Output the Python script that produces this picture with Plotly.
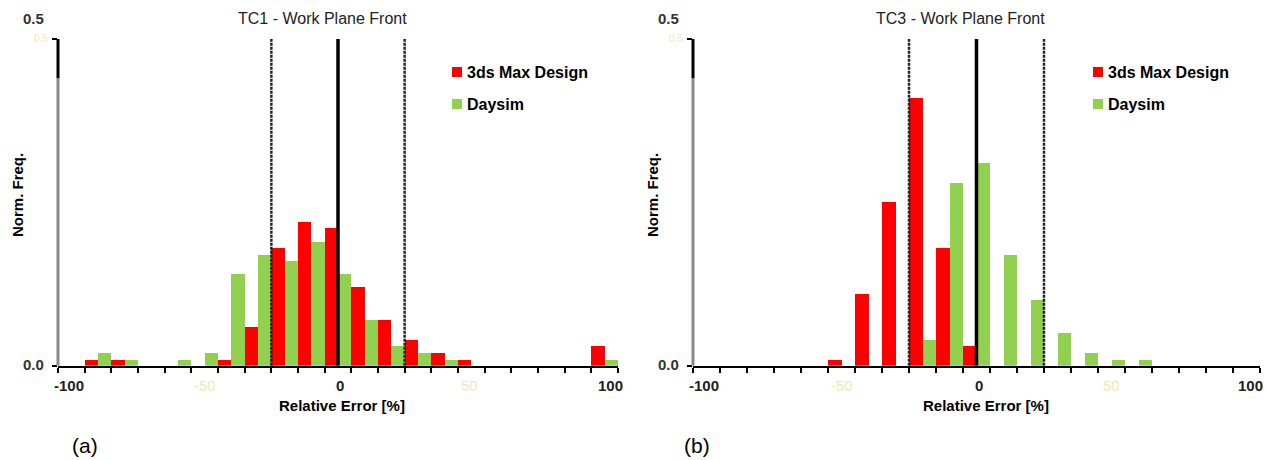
import plotly.graph_objects as go

# ---------------- data ----------------
N_BINS = 21
X_MIN, X_MAX = -100, 100
bin_edges = [X_MIN + k * (X_MAX - X_MIN) / N_BINS for k in range(N_BINS + 1)]
bin_centers = [(bin_edges[k] + bin_edges[k + 1]) / 2 for k in range(N_BINS)]

series_names = ["3ds Max Design", "Daysim"]
series_colors = ["#FF0000", "#92D050"]

# TC1 - Work Plane Front
tc1_max = [0, 0.009, 0.009, 0, 0, 0, 0.009, 0.06, 0.18, 0.22, 0.21, 0.12,
           0.07, 0.04, 0.02, 0.009, 0, 0, 0, 0, 0.03]
tc1_daysim = [0, 0.02, 0.009, 0, 0.009, 0.02, 0.14, 0.17, 0.16, 0.19, 0.14, 0.07,
              0.03, 0.02, 0.009, 0, 0, 0, 0, 0, 0.009]

# TC3 - Work Plane Front
tc3_max = [0, 0, 0, 0, 0, 0.009, 0.11, 0.25, 0.41, 0.18, 0.03, 0,
           0, 0, 0, 0, 0, 0, 0, 0, 0]
tc3_daysim = [0, 0, 0, 0, 0, 0, 0, 0, 0.04, 0.28, 0.31, 0.17,
              0.10, 0.05, 0.02, 0.009, 0.009, 0, 0, 0, 0]

titles = ["TC1 - Work Plane Front", "TC3 - Work Plane Front"]
panel_tags = ["(a)", "(b)"]
x_title = "Relative Error [%]"
y_title = "Norm. Freq."
ref_lines_dashed = [-23.8, 23.8]
ref_line_solid = 0

# ---------------- figure ----------------
W, H = 1267, 460
FONT = "Liberation Sans, Arial, sans-serif"
FADED = "#EEE9B4"


def px(x):
    return x / W


def py(y):
    return 1 - y / H


fig = go.Figure()

panels = [
    dict(vals=(tc1_max, tc1_daysim), xa="x", ya="y"),
    dict(vals=(tc3_max, tc3_daysim), xa="x2", ya="y2"),
]

for p in panels:
    for name, color, vals in zip(series_names, series_colors, p["vals"]):
        fig.add_trace(go.Bar(x=bin_centers, y=vals, name=name, marker_color=color,
                             marker_line_width=0, xaxis=p["xa"], yaxis=p["ya"],
                             showlegend=False))

y_dom = [94.3 / H, 421 / H]
axis_common_x = dict(range=[X_MIN, X_MAX], showgrid=False, zeroline=False,
                     showline=True, linecolor="black", linewidth=2,
                     ticks="outside", tickvals=bin_edges, ticklen=5, tickwidth=2,
                     tickcolor="black", showticklabels=False, fixedrange=True)
axis_common_y = dict(range=[0, 0.5], showgrid=False, zeroline=False, showline=False,
                     ticks="outside", tickvals=[0, 0.5], ticklen=5, tickwidth=2,
                     tickcolor="black", showticklabels=False, fixedrange=True)

fig.update_layout(
    width=W, height=H, autosize=False,
    margin=dict(l=0, r=0, t=0, b=0),
    paper_bgcolor="white", plot_bgcolor="white",
    barmode="group", bargap=0, bargroupgap=0,
    font=dict(family=FONT, color="black"),
    xaxis=dict(domain=[px(58), px(618)], anchor="y", **axis_common_x),
    yaxis=dict(domain=y_dom, anchor="x", **axis_common_y),
    xaxis2=dict(domain=[px(693), px(1260)], anchor="y2", **axis_common_x),
    yaxis2=dict(domain=y_dom, anchor="x2", **axis_common_y),
)

shapes = []
annotations = []


def ann(text, x, y, size, bold=False, color="black", xanchor="center",
        yanchor="middle", angle=0):
    if bold:
        text = "<b>" + text + "</b>"
    annotations.append(dict(text=text, x=px(x), y=py(y), xref="paper", yref="paper",
                            showarrow=False, xanchor=xanchor, yanchor=yanchor,
                            textangle=angle,
                            font=dict(family=FONT, size=size, color=color)))


for i, p in enumerate(panels):
    xr, yr = p["xa"], p["ya"]
    xd = xr + " domain"
    # y axis line: grey lower part, black upper part
    shapes.append(dict(type="line", xref=xd, yref=yr, x0=0, x1=0, y0=0, y1=0.44,
                       line=dict(color="#8A8A8A", width=3)))
    shapes.append(dict(type="line", xref=xd, yref=yr, x0=0, x1=0, y0=0.44, y1=0.5,
                       line=dict(color="black", width=3)))
    # reference lines
    for xv in ref_lines_dashed:
        shapes.append(dict(type="line", xref=xr, yref=yr, x0=xv, x1=xv, y0=0, y1=0.505,
                           line=dict(color="#222222", width=2.5, dash="3px,1px")))
    shapes.append(dict(type="line", xref=xr, yref=yr, x0=ref_line_solid, x1=ref_line_solid,
                       y0=0, y1=0.508, line=dict(color="black", width=3.5)))

# titles
ann(titles[0], 322, 19, 16, color="#222222")
ann(titles[1], 960, 19, 16, color="#222222")

# y tick labels
for off in (0, 635):
    ann("0.5", 46 + off, 18, 15, bold=True, color="#333333", xanchor="right")
    ann("0.5", 50 + off, 39, 10, color=FADED, xanchor="right")
    ann("0.0", 46 + off, 364, 15, bold=True, color="#333333", xanchor="right")
    ann(y_title, 17 + off, 195, 15, bold=True, angle=-90)

# x tick labels
for lab, xv, col, b in [("-100", 69, "#222222", True), ("-50", 205, FADED, False),
                        ("0", 340, "#222222", True), ("50", 470, FADED, False),
                        ("100", 610, "#222222", True)]:
    ann(lab, xv, 385, 15, bold=b, color=col)
for lab, xv, col, b in [("-100", 704, "#222222", True), ("-50", 842, FADED, False),
                        ("0", 979, "#222222", True), ("50", 1111, FADED, False),
                        ("100", 1250, "#222222", True)]:
    ann(lab, xv, 385, 15, bold=b, color=col)

# x titles
ann(x_title, 342, 405, 15, bold=True)
ann(x_title, 986, 405, 15, bold=True)

# legends
for lx in (452, 1093):
    for name, color, ly in zip(series_names, series_colors, (72, 104)):
        shapes.append(dict(type="rect", xref="paper", yref="paper",
                           x0=px(lx), x1=px(lx + 10), y0=py(ly + 5), y1=py(ly - 5),
                           fillcolor=color, line=dict(width=0)))
        ann(name, lx + 13, ly, 16, bold=True, xanchor="left")

# panel tags
ann(panel_tags[0], 85, 445, 21)
ann(panel_tags[1], 697, 445, 21)

fig.update_layout(shapes=shapes, annotations=annotations)
fig.write_html("out.html", config={"displayModeBar": False},
               post_script="document.body.style.margin='0';document.body.style.overflow='hidden';")
